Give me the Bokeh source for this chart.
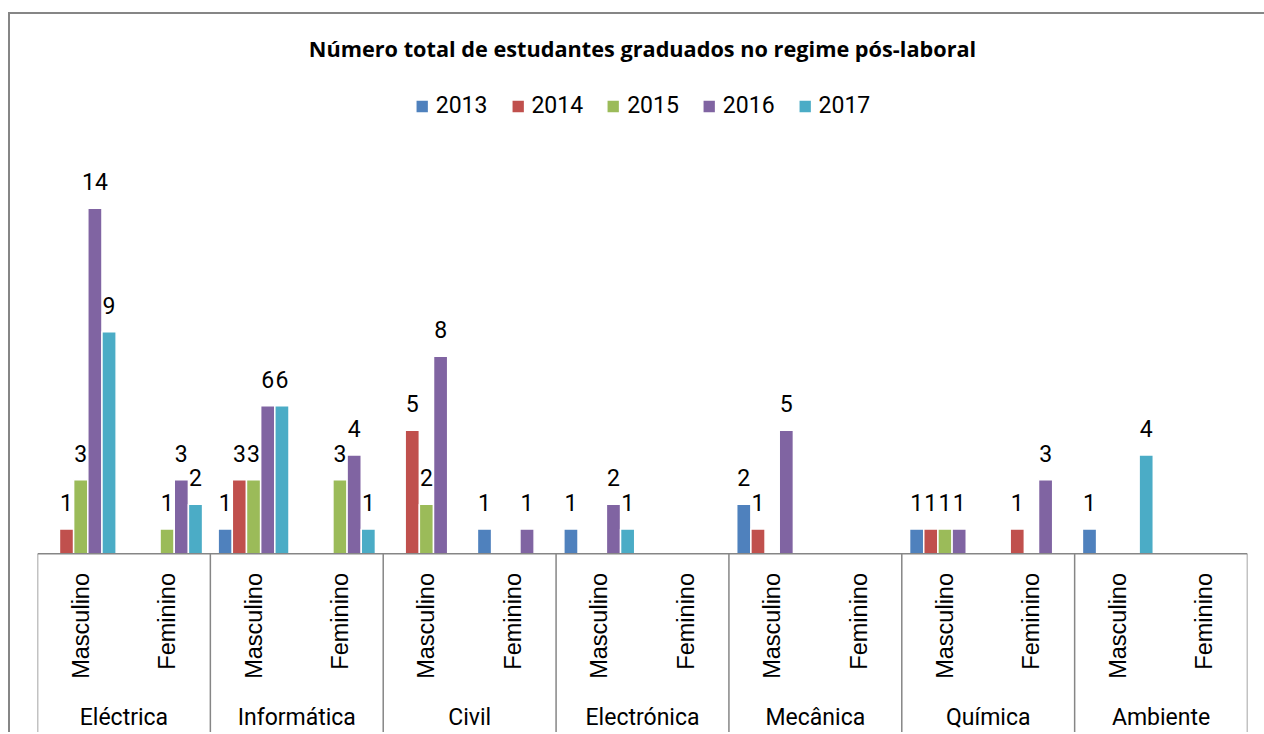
import math
from bokeh.plotting import figure
from bokeh.models import (ColumnDataSource, FactorRange, Range1d, LabelSet, Label,
                          Legend, LegendItem, Span)
from bokeh.core.properties import value
from bokeh.transform import dodge
from bokeh.embed import file_html
from bokeh.resources import INLINE

# ---------------- data ----------------
departments = ["Eléctrica", "Informática", "Civil", "Electrónica", "Mecânica", "Química", "Ambiente"]
genders = ["Masculino", "Feminino"]
years = ["2013", "2014", "2015", "2016", "2017"]
colors = ["#4F81BD", "#C0504D", "#9BBB59", "#8064A2", "#4BACC6"]

# order: (Eléctrica M, F), (Informática M, F), (Civil M, F), (Electrónica M, F),
#        (Mecânica M, F), (Química M, F), (Ambiente M, F)
v2013 = [0, 0, 1, 0, 0, 1, 1, 0, 2, 0, 1, 0, 1, 0]
v2014 = [1, 0, 3, 0, 5, 0, 0, 0, 1, 0, 1, 1, 0, 0]
v2015 = [3, 1, 3, 3, 2, 0, 0, 0, 0, 0, 1, 0, 0, 0]
v2016 = [14, 3, 6, 4, 8, 1, 2, 0, 5, 0, 1, 3, 0, 0]
v2017 = [9, 2, 6, 1, 0, 0, 1, 0, 0, 0, 0, 0, 4, 0]
series = [v2013, v2014, v2015, v2016, v2017]

title_text = "Número total de estudantes graduados no regime pós-laboral"

# ---------------- layout constants (page pixels) ----------------
BORDER = 2
ML, MT = 8, 12                      # position of the outer chart border
X0, Y0 = ML + BORDER, MT + BORDER   # canvas origin on the page
W = 1264 - X0
H = 732 - Y0
PLOT_L, PLOT_R = 37, 1245
BASE_Y = 551.7
PX_PER_UNIT = 24.6

y_top = (BASE_Y - Y0) / PX_PER_UNIT
y_bot = -(Y0 + H - BASE_Y) / PX_PER_UNIT

LBL = "Roboto"
GREY = "#868686"

factors = [(d, g) for d in departments for g in genders]

p = figure(width=W, height=H,
           x_range=FactorRange(*factors, group_padding=0, factor_padding=0, range_padding=0),
           y_range=Range1d(y_bot, y_top),
           x_axis_location=None, y_axis_location=None,
           toolbar_location=None, output_backend="svg",
           min_border_left=PLOT_L - X0, min_border_right=X0 + W - PLOT_R,
           min_border_top=0, min_border_bottom=0,
           outline_line_color=None,
           styles={"box-sizing": "content-box",
                   "border-left": f"{BORDER}px solid {GREY}",
                   "border-top": f"{BORDER}px solid {GREY}",
                   "margin-left": f"{ML}px", "margin-top": f"{MT}px"})
p.grid.visible = False

step = 0.164
items = []
for i, (yr, col, vals) in enumerate(zip(years, colors, series)):
    xs = [f for f, v in zip(factors, vals) if v > 0]
    tops = [v for v in vals if v > 0]
    src = ColumnDataSource(dict(x=xs, top=tops, label=[str(v) for v in tops]))
    off = (i - 2) * step
    r = p.vbar(x=dodge("x", off, range=p.x_range), top="top", bottom=0, width=step,
               source=src, fill_color=col, line_color="white", line_width=1.5)
    items.append(LegendItem(label=yr, renderers=[r]))
    p.add_layout(LabelSet(x=dodge("x", off, range=p.x_range), y="top", text="label",
                          source=src, text_align="center", text_baseline="alphabetic",
                          y_offset=18, text_font=value(LBL), text_font_size="23px",
                          text_color="black"))

# baseline of category axis
p.add_layout(Span(location=0, dimension="width", line_color=GREY, line_width=1.5))

# department dividers
div_x = [[d, -1.0] for d in departments] + [[departments[-1], 1.0]]
p.segment(x0="x", y0=0, x1="x", y1=y_bot, source=ColumnDataSource(dict(x=div_x)),
          line_color=GREY, line_width=1.5)

# gender labels (rotated)
gsrc = ColumnDataSource(dict(x=factors, text=[g for d, g in factors]))
p.add_layout(LabelSet(x="x", y=0, text="text", source=gsrc, angle=math.pi / 2,
                      text_align="right", text_baseline="middle", y_offset=-(571 - BASE_Y),
                      text_font=value("Liberation Sans"), text_font_size="23.5px",
                      text_color="black"))

# department labels
dsrc = ColumnDataSource(dict(x=departments, text=departments))
p.add_layout(LabelSet(x="x", y=0, text="text", source=dsrc, text_align="center",
                      text_baseline="alphabetic", y_offset=-(723 - BASE_Y),
                      text_font=value(LBL), text_font_size="23px", text_color="black"))

# title
p.add_layout(Label(x=len(factors) / 2, y=(BASE_Y - 48) / PX_PER_UNIT, text=title_text,
                   text_align="center", text_baseline="middle",
                   text_font="Open Sans", text_font_style="bold", text_font_size="21.7px",
                   text_color="black"))

legend = Legend(items=items, location="top_center", orientation="horizontal",
                glyph_width=16, glyph_height=16, label_standoff=6, spacing=22,
                padding=0, margin=int(107.5 - 15 - Y0), border_line_color=None,
                background_fill_alpha=0,
                label_text_font=LBL, label_text_font_size="23px", label_text_color="black")
p.add_layout(legend)

open("out.html", "w").write(file_html(p, INLINE))
